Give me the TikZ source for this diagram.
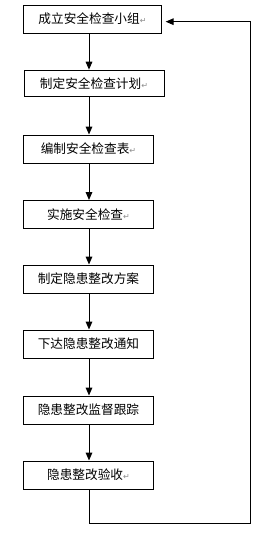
\documentclass[tikz,border=0pt]{standalone}
\usepackage{fontspec}
\setmainfont{Noto Sans CJK SC}
\newfontfamily\retfont{DejaVu Sans}
\usepackage{xcolor}
\usetikzlibrary{arrows.meta}
\newcommand{\retmark}{{\retfont\fontsize{6}{7}\selectfont\textcolor{black!45}{↵}}}

\begin{document}
\begin{tikzpicture}[x=0.75pt,y=-0.75pt,
  font=\fontsize{9.5}{11}\selectfont,
  stepbox/.style={draw=black,line width=0.75pt,fill=white,
    minimum width=97pt,minimum height=21pt,inner sep=2pt},
  flow/.style={-{Triangle[length=6pt,width=5pt]},draw=black,line width=0.75pt},
  loopback/.style={flow,shorten >=2.5pt}]
\useasboundingbox (0,0) rectangle (278,536);
\node[stepbox,minimum width=104pt] (team) at (92.5,19) {成立安全检查小组\retmark};
\node[stepbox,minimum width=105pt,minimum height=20pt] (plan) at (94,83.5) {制定安全检查计划\retmark};
\node[stepbox] (sheet) at (88.5,149) {编制安全检查表\retmark};
\node[stepbox] (inspect) at (88.5,214.5) {实施安全检查\retmark};
\node[stepbox] (scheme) at (88.5,279) {制定隐患整改方案};
\node[stepbox] (notice) at (88.5,344) {下达隐患整改通知};
\node[stepbox] (track) at (88.5,410) {隐患整改监督跟踪};
\node[stepbox] (accept) at (88.5,475) {隐患整改验收\retmark};

\coordinate (axis) at (89,0);
\draw[flow] (team.south -| axis)--(plan.north -| axis);
\draw[flow] (plan.south -| axis)--(sheet.north -| axis);
\draw[flow] (sheet.south -| axis)--(inspect.north -| axis);
\draw[flow] (inspect.south -| axis)--(scheme.north -| axis);
\draw[flow] (scheme.south -| axis)--(notice.north -| axis);
\draw[flow] (notice.south -| axis)--(track.north -| axis);
\draw[flow] (track.south -| axis)--(accept.north -| axis);

\coordinate (loop_corner) at (250,523);
\draw[loopback] (accept.south -| axis) |- (loop_corner) |- ([yshift=-2pt]team.east);
\end{tikzpicture}
\end{document}
